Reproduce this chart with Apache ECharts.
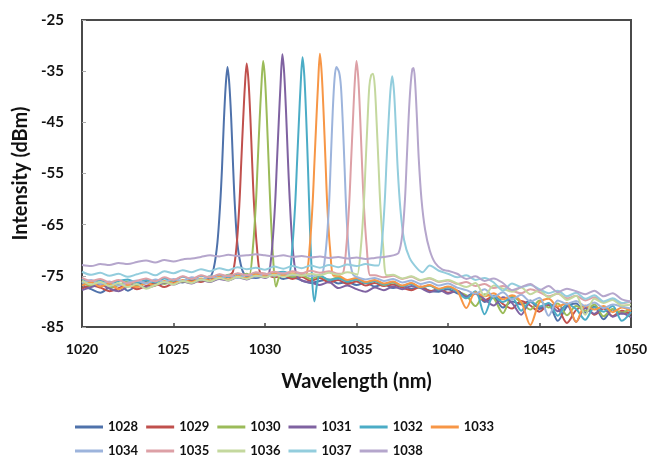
<!DOCTYPE html>
<html><head><meta charset="utf-8">
<script src="https://cdn.jsdelivr.net/npm/echarts@6/dist/echarts.min.js"></script>
<style>html,body{margin:0;padding:0;background:#fff}#c{width:654px;height:455px}</style>
</head><body><div id="c"></div>
<script>
// ---- tick labels ----
const xTicks = [1020, 1025, 1030, 1035, 1040, 1045, 1050];
const yTicks = [-85, -75, -65, -55, -45, -35, -25];

// ---- series names & colours ----
const seriesNames = ['1028','1029','1030','1031','1032','1033','1034','1035','1036','1037','1038'];
const seriesColors = ['#4F72AB','#C0504D','#9BBB59','#7F62A1','#4BACC6','#F79646','#9DB4DC','#DDA0A6','#C4D89E','#93CDDD','#B5A6CC'];

// noise floor sampled every 0.5 nm from 1020 to 1050 (61 values each)
const floor1028 = [-76.8,-77.6,-78.3,-77.2,-76.6,-77.9,-76.9,-76.2,-76.8,-76.4,
 -75.9,-76.3,-75.6,-76.0,-75.2,-74.0,-73.0,-74.2,-75.1,-75.4,
 -75.0,-74.8,-75.6,-75.3,-75.9,-76.4,-76.0,-75.7,-76.5,-76.2,
 -76.8,-76.3,-77.1,-76.6,-77.4,-77.0,-77.5,-77.2,-77.9,-78.1,
 -77.6,-78.4,-79.0,-78.2,-80.1,-79.3,-81.2,-80.0,-80.6,-79.8,
 -81.5,-80.7,-83.8,-81.0,-80.4,-82.2,-81.0,-83.5,-81.6,-82.4,
 -82.0];
const floor1029 = [-77.5,-76.9,-77.3,-78.0,-77.4,-76.8,-77.6,-77.0,-76.5,-77.2,
 -76.4,-76.0,-75.8,-76.2,-75.5,-75.3,-74.9,-75.4,-74.5,-73.8,
 -74.6,-75.3,-75.0,-75.6,-75.2,-76.0,-75.4,-76.3,-75.8,-76.6,
 -76.1,-76.9,-76.4,-77.0,-76.7,-77.3,-77.8,-77.1,-78.0,-77.6,
 -78.3,-77.9,-79.2,-78.5,-79.8,-78.9,-80.5,-81.4,-79.9,-80.8,
 -82.0,-80.6,-81.3,-84.2,-81.7,-80.9,-82.6,-81.4,-82.9,-81.8,
 -82.5];
const floor1030 = [-76.2,-77.0,-76.5,-77.4,-76.8,-76.1,-77.0,-76.4,-75.9,-76.6,
 -75.8,-76.2,-75.4,-75.9,-75.1,-75.6,-74.8,-75.3,-74.6,-75.5,
 -74.9,-76.0,-74.7,-75.2,-74.9,-75.6,-75.1,-75.8,-75.3,-76.1,
 -75.7,-76.4,-76.0,-76.8,-76.3,-77.0,-76.5,-77.3,-76.9,-77.6,
 -77.2,-78.0,-78.8,-80.9,-78.6,-79.4,-82.3,-79.0,-80.2,-81.6,
 -79.8,-81.2,-80.4,-82.7,-80.9,-81.8,-80.6,-82.9,-81.5,-82.2,
 -81.3];
const floor1031 = [-77.8,-77.2,-76.7,-77.5,-78.0,-77.1,-76.6,-77.3,-76.9,-76.3,
 -76.7,-76.1,-76.5,-75.8,-76.2,-75.6,-75.9,-75.3,-75.7,-75.0,
 -75.4,-74.8,-75.2,-75.6,-75.9,-76.3,-76.8,-76.2,-77.4,-76.9,
 -77.6,-78.1,-77.3,-77.8,-77.1,-77.6,-77.0,-77.4,-78.2,-77.7,
 -78.5,-77.9,-79.1,-78.3,-79.6,-80.8,-79.2,-80.3,-82.6,-80.1,
 -81.2,-80.4,-81.9,-80.7,-84.0,-81.3,-82.4,-81.1,-83.0,-82.3,
 -83.1];
const floor1032 = [-75.6,-76.2,-75.9,-76.6,-76.0,-75.7,-76.4,-75.8,-76.3,-75.5,
 -75.9,-75.2,-75.7,-75.0,-75.4,-74.8,-75.3,-74.6,-75.0,-74.4,
 -74.9,-74.5,-74.2,-74.8,-75.0,-75.4,-75.1,-75.8,-75.5,-76.1,
 -75.7,-76.4,-76.0,-76.7,-76.2,-77.0,-76.6,-77.3,-76.9,-77.7,
 -77.3,-78.1,-79.4,-78.0,-82.5,-78.9,-80.1,-79.3,-81.8,-80.0,
 -81.0,-80.3,-82.8,-80.6,-81.5,-83.6,-81.2,-82.0,-80.9,-83.8,
 -82.1];
const floor1033 = [-76.9,-76.3,-77.1,-76.5,-77.6,-76.8,-77.2,-76.4,-76.9,-76.0,
 -76.5,-75.8,-76.2,-75.5,-75.9,-75.2,-75.7,-75.0,-75.4,-74.7,
 -75.1,-74.6,-75.0,-74.5,-74.9,-75.3,-74.8,-75.5,-75.0,-75.8,
 -75.4,-76.2,-75.8,-76.5,-76.1,-76.9,-76.4,-77.2,-76.8,-77.5,
 -77.1,-77.9,-81.3,-78.2,-79.0,-78.4,-79.6,-78.8,-80.1,-84.6,
 -80.2,-79.5,-81.0,-80.3,-84.0,-80.8,-81.6,-80.9,-82.1,-81.2,
 -81.9];
const floor1034 = [-76.4,-75.8,-76.6,-76.1,-76.9,-76.3,-75.9,-76.5,-75.7,-76.2,
 -75.6,-76.0,-75.3,-75.8,-75.1,-75.5,-74.9,-75.4,-74.8,-75.2,
 -74.6,-75.0,-74.4,-74.9,-74.5,-75.1,-74.8,-73.2,-73.5,-74.6,
 -75.2,-75.7,-75.4,-76.0,-75.6,-76.3,-75.9,-76.6,-76.2,-76.9,
 -76.5,-77.3,-77.8,-78.5,-77.6,-79.1,-78.2,-79.6,-78.7,-80.0,
 -79.3,-82.8,-79.8,-80.5,-79.9,-80.9,-80.2,-81.3,-80.6,-81.0,
 -81.4];
const floor1035 = [-75.4,-76.0,-75.6,-76.3,-75.8,-76.5,-76.0,-75.5,-76.1,-75.3,
 -75.8,-75.1,-75.6,-74.9,-75.3,-74.7,-75.1,-74.5,-74.9,-74.3,
 -74.7,-74.2,-74.6,-74.1,-74.5,-74.0,-74.4,-74.1,-74.6,-74.3,
 -74.0,-74.5,-74.9,-75.3,-75.0,-75.6,-75.2,-75.9,-75.5,-76.2,
 -75.9,-76.6,-76.2,-77.0,-76.6,-77.4,-77.0,-77.9,-78.4,-77.6,
 -78.2,-79.0,-78.5,-79.4,-78.9,-79.8,-79.2,-80.1,-79.6,-80.4,
 -80.0];
const floor1036 = [-76.0,-76.7,-76.2,-77.0,-76.4,-77.2,-76.6,-77.5,-76.8,-76.2,
 -76.7,-76.0,-76.4,-75.7,-76.1,-75.4,-75.9,-75.2,-75.6,-75.0,
 -75.3,-74.8,-75.2,-74.7,-75.0,-74.6,-74.9,-74.4,-74.8,-74.3,
 -74.7,-74.2,-74.9,-75.3,-74.8,-75.5,-75.1,-75.8,-75.4,-76.1,
 -75.8,-76.5,-77.2,-76.4,-78.9,-76.9,-77.5,-78.1,-77.3,-78.6,
 -77.8,-79.2,-78.4,-79.7,-78.9,-82.6,-79.5,-80.3,-79.7,-80.8,
 -80.6];
const floor1037 = [-74.2,-74.8,-74.4,-75.0,-74.6,-75.2,-74.7,-74.3,-74.9,-74.1,
 -74.5,-73.9,-74.3,-73.7,-74.1,-73.5,-73.9,-73.3,-73.7,-73.4,
 -73.8,-73.2,-73.6,-73.1,-73.5,-73.0,-73.4,-72.9,-73.3,-72.8,
 -73.1,-72.7,-73.0,-72.6,-72.4,-72.0,-71.8,-71.5,-73.0,-74.0,
 -74.6,-75.3,-74.9,-75.8,-75.4,-76.3,-77.9,-76.5,-77.2,-76.8,
 -77.6,-78.4,-77.9,-79.0,-78.3,-79.5,-78.8,-80.0,-79.4,-80.3,
 -79.9];
const floor1038 = [-72.9,-73.1,-72.7,-72.9,-72.5,-72.7,-72.3,-72.0,-72.4,-71.9,
 -72.2,-71.8,-71.6,-71.3,-71.0,-71.2,-70.9,-71.1,-71.0,-70.8,
 -71.0,-71.2,-71.0,-71.3,-71.1,-71.4,-71.2,-71.5,-71.3,-71.6,
 -71.4,-71.7,-71.5,-71.3,-71.0,-70.6,-70.0,-69.0,-55.0,-58.0,
 -74.0,-74.6,-75.6,-75.1,-76.0,-75.5,-76.4,-77.8,-77.2,-76.6,
 -77.8,-77.0,-78.2,-77.5,-78.0,-78.6,-77.9,-79.0,-78.4,-79.6,
 -80.0];

// lasing peaks: [wavelength nm, intensity dBm]
const peak1028 = [[1027.2,-73.5],[1027.4,-68.5],[1027.55,-61],[1027.65,-54],[1027.75,-45],[1027.85,-38],[1027.95,-34.2],[1028.05,-37.5],[1028.15,-44],[1028.25,-53],[1028.35,-61],[1028.5,-69],[1028.75,-73.8]];
const peak1029 = [[1028.25,-74.2],[1028.45,-69],[1028.6,-61],[1028.7,-53],[1028.8,-45],[1028.9,-38],[1029.0,-33.5],[1029.1,-37],[1029.2,-44],[1029.3,-53],[1029.4,-61],[1029.55,-69],[1029.75,-74.5]];
const peak1030 = [[1029.15,-74.8],[1029.35,-69],[1029.5,-61],[1029.6,-53],[1029.7,-45],[1029.8,-38],[1029.9,-33.0],[1030.0,-36.5],[1030.1,-44],[1030.2,-53],[1030.3,-62],[1030.45,-72],[1030.6,-77.1],[1030.8,-75.0]];
const peak1031 = [[1030.2,-75.0],[1030.4,-69],[1030.55,-61],[1030.65,-53],[1030.75,-45],[1030.85,-37.5],[1030.95,-31.7],[1031.05,-35.5],[1031.15,-43],[1031.25,-52],[1031.35,-60],[1031.5,-69],[1031.7,-74.6]];
const peak1032 = [[1031.3,-74.5],[1031.5,-69],[1031.65,-61],[1031.75,-53],[1031.85,-45],[1031.95,-37.5],[1032.05,-32.3],[1032.15,-36],[1032.25,-44],[1032.35,-54],[1032.45,-65],[1032.58,-76],[1032.7,-80.0],[1032.85,-76.5],[1033.0,-74.9]];
const peak1033 = [[1032.25,-74.8],[1032.45,-69],[1032.6,-61],[1032.7,-53],[1032.8,-45],[1032.9,-37.5],[1033.0,-31.6],[1033.1,-35.5],[1033.2,-43],[1033.3,-52],[1033.4,-61],[1033.55,-69.5],[1033.75,-75.0]];
const peak1034 = [[1033.15,-74.6],[1033.35,-69],[1033.5,-61],[1033.6,-52],[1033.7,-43],[1033.8,-36.5],[1033.9,-34.2],[1034.05,-35.2],[1034.15,-38],[1034.25,-45],[1034.35,-54],[1034.45,-63],[1034.6,-71],[1034.8,-74.7]];
const peak1035 = [[1034.25,-74.5],[1034.45,-69],[1034.6,-61],[1034.7,-53],[1034.8,-45],[1034.9,-37.5],[1035.0,-33.0],[1035.1,-36.5],[1035.2,-44],[1035.3,-53],[1035.4,-61],[1035.55,-69],[1035.75,-74.9]];
const peak1036 = [[1035.05,-74.8],[1035.25,-69],[1035.4,-61],[1035.5,-53],[1035.6,-45],[1035.7,-38],[1035.8,-35.8],[1035.9,-35.5],[1036.0,-38],[1036.1,-45],[1036.2,-53],[1036.3,-61],[1036.45,-69],[1036.65,-74.9]];
const peak1037 = [[1036.2,-73.0],[1036.4,-68],[1036.55,-60],[1036.65,-52],[1036.75,-45],[1036.85,-39],[1036.95,-36.0],[1037.05,-39],[1037.15,-46],[1037.25,-54],[1037.4,-62],[1037.6,-68],[1037.9,-71.5],[1038.3,-73.5],[1038.6,-74.3]];
const peak1038 = [[1037.3,-70.5],[1037.5,-67],[1037.65,-60],[1037.75,-52],[1037.85,-44],[1037.95,-38],[1038.05,-34.6],[1038.12,-34.4],[1038.2,-37],[1038.3,-44],[1038.4,-52],[1038.55,-60],[1038.75,-66],[1039.0,-70],[1039.3,-72.5],[1039.7,-73.8],[1040.0,-74.0]];

const floors = [floor1028,floor1029,floor1030,floor1031,floor1032,floor1033,floor1034,floor1035,floor1036,floor1037,floor1038];
const peaks = [peak1028,peak1029,peak1030,peak1031,peak1032,peak1033,peak1034,peak1035,peak1036,peak1037,peak1038];
const gridStart = 1020, gridStep = 0.5;

function buildSeriesData(fl, pk) {
  const lo = pk[0][0], hi = pk[pk.length - 1][0];
  const pts = [];
  fl.forEach((v, i) => {
    const x = +(gridStart + i * gridStep).toFixed(2);
    if (x < lo || x > hi) pts.push([x, v]);
  });
  pk.forEach(p => pts.push(p));
  pts.sort((a, b) => a[0] - b[0]);
  return pts;
}

const FONT = 'Lato';
const chart = echarts.init(document.getElementById('c'), null, {renderer: 'canvas'});
chart.setOption({
  animation: false,
  backgroundColor: '#fff',
  color: seriesColors,
  grid: {left: 82, right: 23, top: 20, bottom: 128, show: true, borderColor: '#4a4a4a', borderWidth: 2, backgroundColor: 'transparent'},
  xAxis: {
    type: 'value', min: xTicks[0], max: xTicks[xTicks.length - 1], interval: xTicks[1] - xTicks[0],
    name: 'Wavelength (nm)', nameLocation: 'middle', nameGap: 45,
    nameTextStyle: {fontFamily: FONT, fontWeight: 'bold', fontSize: 20, color: '#111'},
    axisLine: {show: true, lineStyle: {color: '#4a4a4a', width: 2}},
    axisTick: {show: true, inside: true, length: 4, lineStyle: {color: '#4a4a4a', width: 1.5}},
    splitLine: {show: false},
    axisLabel: {fontFamily: FONT, fontWeight: 'bold', fontSize: 14, color: '#111', margin: 15,
      formatter: v => String(v)}
  },
  yAxis: {
    type: 'value', min: yTicks[0], max: yTicks[yTicks.length - 1], interval: yTicks[1] - yTicks[0],
    name: 'Intensity (dBm)', nameLocation: 'middle', nameGap: 43,
    nameTextStyle: {fontFamily: FONT, fontWeight: 'bold', fontSize: 20, color: '#111'},
    axisLine: {show: true, lineStyle: {color: '#4a4a4a', width: 2}},
    axisTick: {show: true, inside: true, length: 4, lineStyle: {color: '#aaa', width: 1}},
    splitLine: {show: false},
    axisLabel: {fontFamily: FONT, fontWeight: 'bold', fontSize: 15, color: '#111', margin: 18,
      formatter: v => String(v)}
  },
  legend: {
    left: 70, top: 414, width: 440, orient: 'horizontal',
    icon: 'rect', itemWidth: 28, itemHeight: 3, itemGap: 8,
    textStyle: {fontFamily: FONT, fontWeight: 'bold', fontSize: 13, color: '#111', lineHeight: 16},
    data: seriesNames
  },
  series: seriesNames.map((n, i) => ({
    name: n, type: 'line', showSymbol: false, symbol: 'none',
    smooth: 0.3, clip: true,
    lineStyle: {width: 2, color: seriesColors[i]},
    itemStyle: {color: seriesColors[i]},
    data: buildSeriesData(floors[i], peaks[i])
  }))
});
</script></body></html>
